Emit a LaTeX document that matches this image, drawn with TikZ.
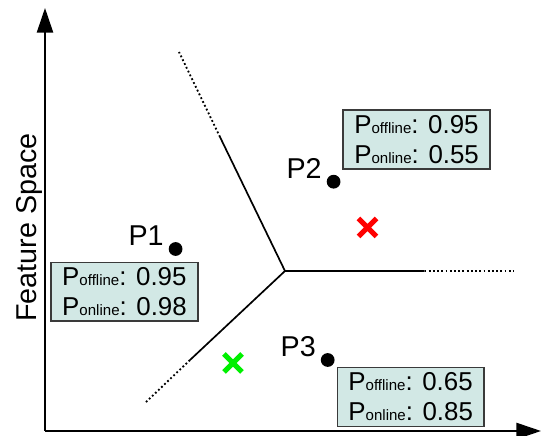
\documentclass[tikz,border=0pt]{standalone}
\usepackage{fontspec}
\setmainfont{Liberation Sans}
\usetikzlibrary{arrows.meta,positioning}
\definecolor{boxfill}{HTML}{D2E8E5}
\definecolor{boxline}{HTML}{3A3A3A}
\definecolor{crossred}{HTML}{FF0000}
\definecolor{crossgreen}{HTML}{00F000}
\newcommand{\bigfont}{\fontsize{20.4}{21.3}\selectfont}
\newcommand{\boxfont}{\fontsize{18.4}{21.3}\selectfont}
\newcommand{\psub}[1]{P{\fontsize{10.7}{12}\selectfont #1}}

\begin{document}
\begin{tikzpicture}[x=0.025cm, y=0.025cm,
		axis/.style={line width=1.3pt, -{Triangle[length=17.5pt,width=11.5pt]}},
		border/.style={line width=1.2pt},
		borderdot/.style={line width=1.3pt, dash pattern=on 1.3pt off 1.7pt},
		ptdot/.style={circle, fill=black, inner sep=0pt, minimum size=9.8pt},
		ptname/.style={inner sep=0pt, font=\bigfont},
		probbox/.style={draw=boxline, line width=1pt, fill=boxfill, font=\boxfont,
			align=left, minimum width=104.5pt, minimum height=41.8pt, inner sep=0pt},
		cross/.style={line width=3.6pt}]
	\useasboundingbox (-45,-5) rectangle (497,431);

	% Оси
	\coordinate (o) at (0,0);
	\coordinate (xend) at (496,0);
	\coordinate (yend) at (0,423);
	\draw[axis] (o) -- (xend);
	\draw[axis] (o) -- (yend);
	\node[rotate=90, font=\bigfont] (ylabel) at (-15.6,203.5) {Feature Space};

	% Границы
	\coordinate (j) at (240,160);
	\coordinate (u1) at (175,294);
	\coordinate (u2) at (134,379);
	\coordinate (r1) at (379.5,160);
	\coordinate (r2) at (469,160);
	\coordinate (l1) at (145,71);
	\coordinate (l2) at (100,28);
	\draw[border] (u1) -- (j) -- (r1);
	\draw[border] (j) -- (l1);
	\draw[borderdot] (u1) -- (u2);
	\draw[borderdot] (r1) -- (r2);
	\draw[borderdot] (l1) -- (l2);

	% Точки
	\node[ptdot] (p1) at (130.6,182) {};
	\node[ptdot] (p2) at (288.6,249.3) {};
	\node[ptdot] (p3) at (282.7,71) {};
	\node[ptname, above left=-1.4pt and 4.7pt of p1] (p1name) {P1};
	\node[ptname, above left=-1.4pt and 4.7pt of p2] (p2name) {P2};
	\node[ptname, above left=-1.4pt and 4.7pt of p3] (p3name) {P3};

	% Вероятности
	\node[probbox] (b1) at (79.5,139.3) {\psub{offline}: 0.95\\\psub{online}: 0.98};
	\node[probbox] (b2) at (371.6,291.5) {\psub{offline}: 0.95\\\psub{online}: 0.55};
	\node[probbox] (b3) at (365.7,34.1) {\psub{offline}: 0.65\\\psub{online}: 0.85};

	% Крестики
	\coordinate (xred) at (322.5,203.5);
	\coordinate (xgreen) at (188,68);
	\draw[cross, crossred] (xred) +(-9,-9) -- +(9,9) (xred) +(-9,9) -- +(9,-9);
	\draw[cross, crossgreen] (xgreen) +(-9,-9) -- +(9,9) (xgreen) +(-9,9) -- +(9,-9);
\end{tikzpicture}
\end{document}
